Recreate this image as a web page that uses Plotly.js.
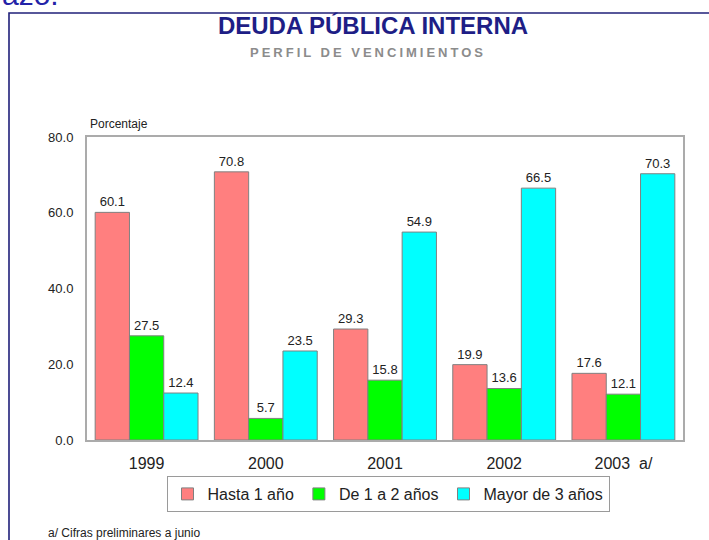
<!DOCTYPE html>
<html>
<head>
<meta charset="utf-8">
<script src="https://cdn.plot.ly/plotly-3.0.1.min.js"></script>
<style>
html,body{margin:0;padding:0;background:#fff;}
#chart{width:709px;height:540px;}
</style>
</head>
<body>
<div id="chart"></div>
<script>
// ---- data ----
const years = ["1999", "2000", "2001", "2002", "2003\u00a0\u00a0a/"];
const seriesNames = ["Hasta 1 año", "De 1 a 2 años", "Mayor de 3 años"];
const hasta1 = [60.1, 70.8, 29.3, 19.9, 17.6];
const de1a2 = [27.5, 5.7, 15.8, 13.6, 12.1];
const mayor3 = [12.4, 23.5, 54.9, 66.5, 70.3];
const yTicks = [0, 20, 40, 60, 80];

// ---- styles ----
const colors = ["#FF7F7F", "#00FF00", "#00FFFF"];
const FONT = '"Liberation Sans", Arial, sans-serif';

// plot-area pixel geometry helpers
const L = 87, R = 683, T = 137, B = 440;
const px = x => (x - L) / (R - L);
const py = y => (B - y) / (B - T);

const values = [hasta1, de1a2, mayor3];
const traces = values.map((v, i) => ({
  type: "bar",
  name: seriesNames[i],
  x: years,
  y: v,
  text: v.map(d => d.toFixed(1)),
  textposition: "outside",
  textfont: {family: FONT, size: 13, color: "#222"},
  cliponaxis: false,
  marker: {color: colors[i], line: {color: "#808080", width: 1}},
  hoverinfo: "skip"
}));

const layout = {
  width: 709,
  height: 540,
  margin: {l: L, r: 709 - R, t: T, b: 540 - B},
  paper_bgcolor: "#fff",
  plot_bgcolor: "#fff",
  font: {family: FONT, color: "#222"},
  showlegend: true,
  barmode: "group",
  bargap: 0.137,
  bargroupgap: 0,
  title: {
    text: "DEUDA PÚBLICA INTERNA",
    font: {family: FONT, size: 24, color: "#1e1e86", weight: "bold"},
    x: 373 / 709, xanchor: "center", xref: "container",
    y: 1 - 26 / 540, yanchor: "middle", yref: "container"
  },
  xaxis: {
    type: "category",
    showline: true, mirror: true, linecolor: "#ababab", linewidth: 2,
    showgrid: false, zeroline: false, ticks: "",
    ticklabelstandoff: 8,
    tickfont: {family: FONT, size: 16, color: "#222"},
    fixedrange: true
  },
  yaxis: {
    range: [0, 80],
    tickvals: yTicks,
    tickformat: ".1f",
    showline: true, mirror: true, linecolor: "#ababab", linewidth: 2,
    showgrid: false, zeroline: false, ticks: "",
    ticklabelstandoff: 9,
    tickfont: {family: FONT, size: 13, color: "#222"},
    fixedrange: true
  },
  legend: {
    orientation: "h",
    x: px(388), xanchor: "center",
    y: py(476), yanchor: "top",
    bgcolor: "#fff",
    bordercolor: "#9a9a9a",
    borderwidth: 1,
    font: {family: FONT, size: 16, color: "#222"},
    itemwidth: 30,
    traceorder: "normal"
  },
  shapes: [
    {type: "rect", xref: "paper", yref: "paper",
     x0: px(9), x1: px(740), y0: py(13), y1: py(580),
     line: {color: "#20207a", width: 1.6}, fillcolor: "rgba(0,0,0,0)", layer: "below"}
  ],
  annotations: [
    {text: "azo.", xref: "paper", yref: "paper", x: px(0), y: py(13),
     xanchor: "left", yanchor: "bottom", showarrow: false,
     font: {family: FONT, size: 30, color: "#2323a8"}},
    {text: "PERFIL DE VENCIMIENTOS", xref: "paper", yref: "paper",
     x: px(368), y: py(52), xanchor: "center", yanchor: "middle", showarrow: false,
     font: {family: FONT, size: 13, color: "#8c8c8c", weight: "bold"}},
    {text: "Porcentaje", xref: "paper", yref: "paper",
     x: px(88), y: py(124), xanchor: "left", yanchor: "middle", showarrow: false,
     font: {family: FONT, size: 12, color: "#222"}},
    {text: "a/ Cifras preliminares a junio", xref: "paper", yref: "paper",
     x: px(46), y: py(533), xanchor: "left", yanchor: "middle", showarrow: false,
     font: {family: FONT, size: 12, color: "#222"}}
  ]
};

Plotly.newPlot("chart", traces, layout, {displayModeBar: false, staticPlot: true}).then(() => {
  document.querySelectorAll(".annotation-text").forEach(t => {
    if (t.textContent === "PERFIL DE VENCIMIENTOS") {
      t.style.letterSpacing = "3px";
    }
  });
});
</script>
</body>
</html>
